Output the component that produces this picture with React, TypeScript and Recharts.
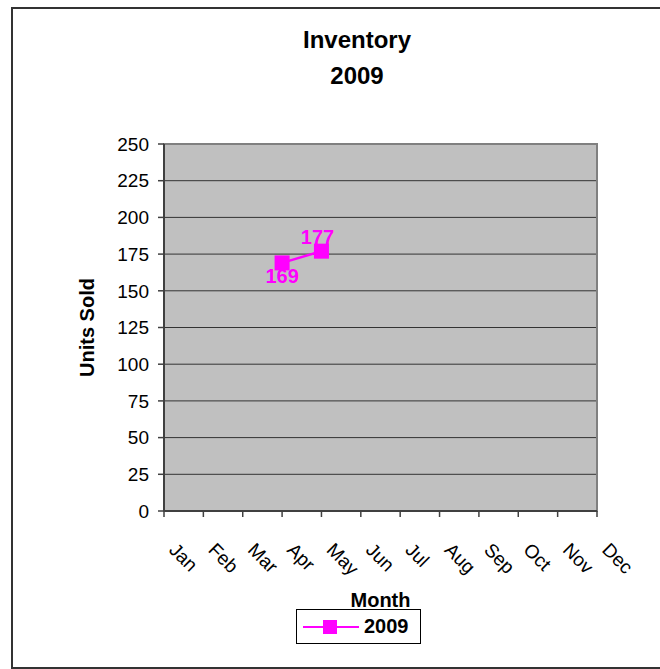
import React from 'react';
import { LineChart, Line, XAxis, YAxis, CartesianGrid, Legend, LabelList, ReferenceArea, Label } from 'recharts';

const months = ['Jan', 'Feb', 'Mar', 'Apr', 'May', 'Jun', 'Jul', 'Aug', 'Sep', 'Oct', 'Nov', 'Dec'];
const units2009: (number | null)[] = [null, null, null, 169, 177, null, null, null, null, null, null, null];
const yTicks = [0, 25, 50, 75, 100, 125, 150, 175, 200, 225, 250];

const FONT = '"Liberation Sans", Arial, sans-serif';
const MAGENTA = '#FF00FF';
const AXIS = '#404040';

const data = months.map((m, i) => ({ month: m, y2009: units2009[i] }));
const defined = units2009.filter((v): v is number => v !== null);
const peak = Math.max(...defined);

const MonthTick = (props: any) => {
  const { x, y, payload } = props;
  return (
    <g transform={`translate(${x + 4},${y + 32})`}>
      <text x={0} y={0} transform="rotate(45)" textAnchor="start" fontSize={19} fontFamily={FONT} fill="#000">
        {payload.value}
      </text>
    </g>
  );
};

const SquareDot = (props: any) => {
  const { cx, cy, value } = props;
  if (value === null || value === undefined || cx == null || cy == null) return null;
  return <rect x={cx - 7.5} y={cy - 7.5} width={15} height={15} fill={MAGENTA} />;
};

// Excel put the lower point's label underneath and the higher one on top
const PointLabel = (props: any) => {
  const { x, y, value } = props;
  if (value === null || value === undefined) return null;
  const above = value === peak;
  return (
    <text
      x={above ? x - 4 : x}
      y={above ? y - 7 : y + 20}
      textAnchor="middle"
      fontSize={20}
      fontWeight="bold"
      fontFamily={FONT}
      fill={MAGENTA}
    >
      {value}
    </text>
  );
};

const LegendBox = () => (
  <div
    style={{
      boxSizing: 'border-box',
      width: 125,
      height: 35,
      border: '1px solid #000',
      background: '#fff',
      display: 'flex',
      alignItems: 'center',
      paddingLeft: 6,
      fontFamily: FONT,
    }}
  >
    <svg width={56} height={20}>
      <line x1={0} y1={10} x2={56} y2={10} stroke={MAGENTA} strokeWidth={2} />
      <rect x={20} y={3} width={14} height={14} fill={MAGENTA} />
    </svg>
    <span style={{ marginLeft: 5, fontSize: 20, fontWeight: 'bold', color: '#000' }}>2009</span>
  </div>
);

export default function App() {
  return (
    <div style={{ position: 'absolute', left: 0, top: 0, width: 660, height: 669, overflow: 'hidden', background: '#fff' }}>
      <div
        style={{
          position: 'absolute',
          left: 11,
          top: 7,
          width: 660,
          height: 662,
          border: '2px solid #333',
          boxSizing: 'border-box',
        }}
      />
      <LineChart width={660} height={669} data={data} margin={{ top: 144, right: 63, bottom: 25, left: 84 }}>
        <CartesianGrid vertical={false} fill="#C0C0C0" fillOpacity={1} stroke="#333" horizontalValues={yTicks} />
        <ReferenceArea y1={0} y2={250} fill="none" fillOpacity={0} stroke="#808080" strokeWidth={2} ifOverflow="visible" />
        <XAxis
          dataKey="month"
          interval={0}
          padding={{ left: 0, right: 0 }}
          height={98}
          tick={<MonthTick />}
          tickSize={6}
          axisLine={{ stroke: AXIS, strokeWidth: 2 }}
          tickLine={{ stroke: AXIS, strokeWidth: 1.5 }}
        >
          <Label
            value="Month"
            position="insideBottom"
            offset={2}
            style={{ fontSize: 20, fontWeight: 'bold', fontFamily: FONT, fill: '#000' }}
          />
        </XAxis>
        <YAxis
          width={80}
          domain={[0, 250]}
          ticks={yTicks}
          interval={0}
          tickSize={6}
          tickMargin={9}
          tick={{ fontSize: 19, fontFamily: FONT, fill: '#000' }}
          axisLine={{ stroke: AXIS, strokeWidth: 2 }}
          tickLine={{ stroke: AXIS, strokeWidth: 1.5 }}
        >
          <Label
            content={(p: any) => {
              const vb = p.viewBox;
              const cx = vb.x + 3;
              const cy = vb.y + vb.height / 2;
              return (
                <text
                  x={cx}
                  y={cy}
                  transform={`rotate(-90, ${cx}, ${cy})`}
                  textAnchor="middle"
                  dominantBaseline="central"
                  fontSize={20}
                  fontWeight="bold"
                  fontFamily={FONT}
                  fill="#000"
                >
                  Units Sold
                </text>
              );
            }}
          />
        </YAxis>
        <Legend verticalAlign="bottom" wrapperStyle={{ left: 296, width: 125, bottom: 25 }} content={<LegendBox />} />
        <Line
          type="linear"
          dataKey="y2009"
          name="2009"
          stroke={MAGENTA}
          strokeWidth={2.5}
          dot={<SquareDot />}
          activeDot={false}
          isAnimationActive={false}
        >
          <LabelList dataKey="y2009" content={<PointLabel />} />
        </Line>
      </LineChart>
      <div
        style={{
          position: 'absolute',
          left: 257,
          top: 22,
          width: 200,
          textAlign: 'center',
          fontFamily: FONT,
          fontWeight: 'bold',
          fontSize: 24,
          lineHeight: '36px',
          color: '#000',
        }}
      >
        <div>Inventory</div>
        <div>2009</div>
      </div>
    </div>
  );
}
